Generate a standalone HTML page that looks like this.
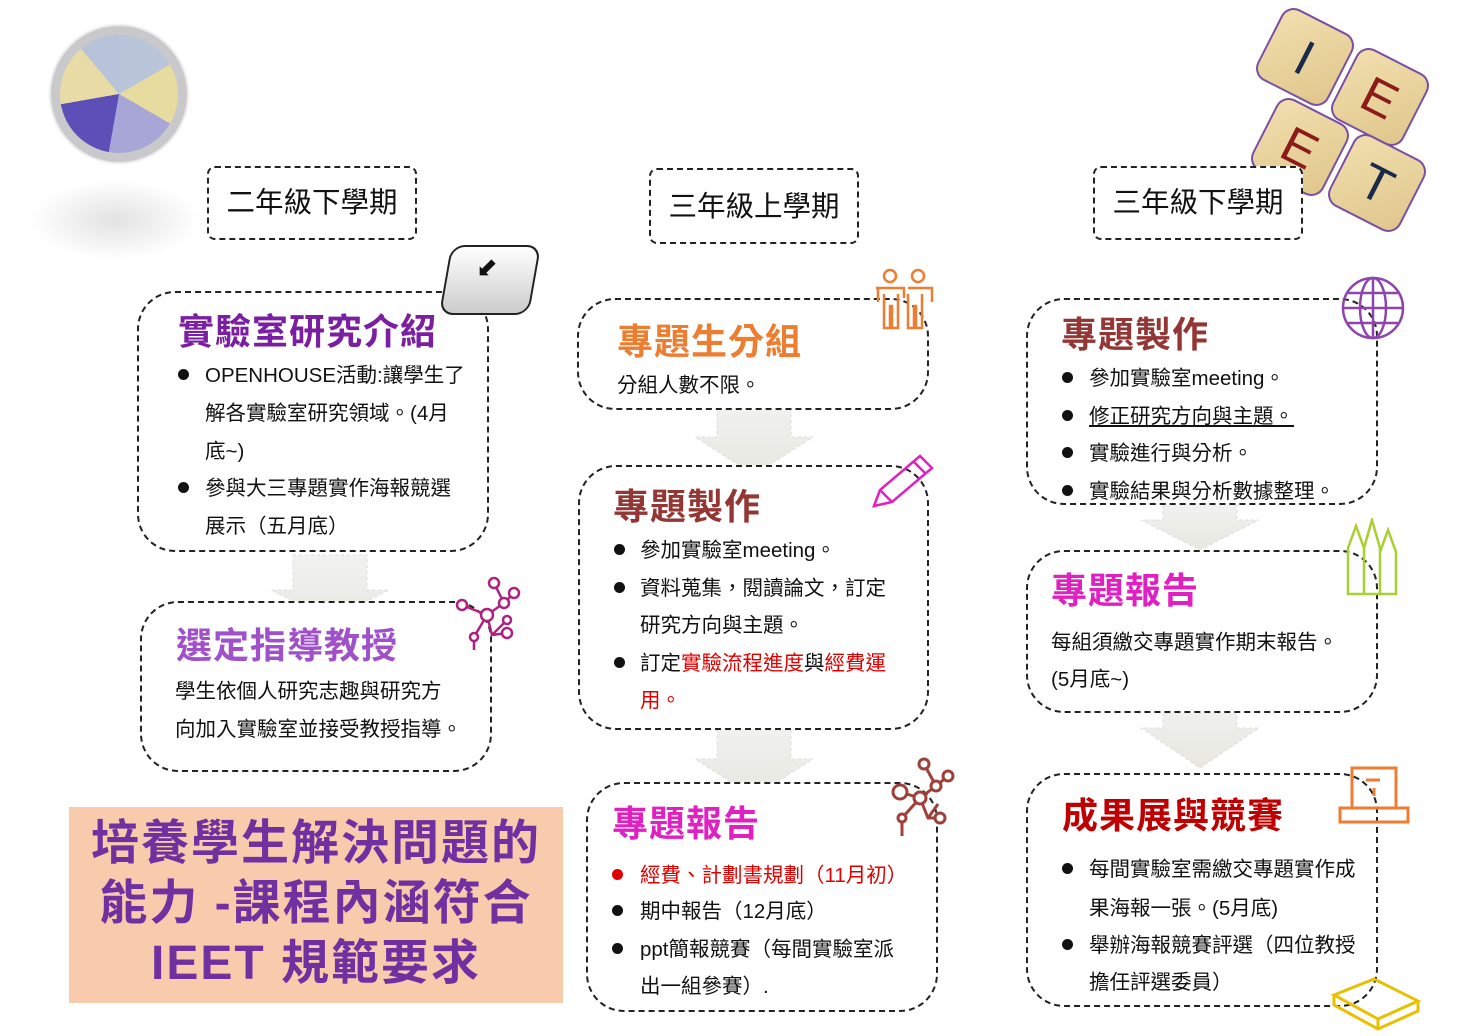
<!DOCTYPE html>
<html><head><meta charset="utf-8">
<style>
*{margin:0;padding:0;box-sizing:border-box}
body{width:1472px;height:1036px;background:#fff;position:relative;overflow:hidden;font-family:"Liberation Sans","Noto Sans CJK TC",sans-serif;color:#111}
.b{position:absolute;border:2px dashed #222;border-radius:38px;background:#fff}
.h{position:absolute;border:2px dashed #222;border-radius:8px;background:#fff;font-size:28.5px;text-align:center}
.t{position:absolute;font-size:36px;font-weight:bold;white-space:nowrap;letter-spacing:1px;margin-top:-4px}
.l{position:absolute;font-size:20.5px;white-space:nowrap;margin-top:-3px}
.d{position:absolute;width:11px;height:11px;border-radius:50%;background:#111}
.tile{position:absolute;width:80px;height:80px;border-radius:14px;border:2px solid #7a4fa0;background:linear-gradient(135deg,#f1dfae,#e0c68c);transform:rotate(27deg);font-family:"Liberation Sans",sans-serif;font-size:50px;text-align:center;line-height:78px}
</style></head><body>

<div style="position:absolute;left:52px;top:27px;width:134px;height:134px;border-radius:50%;background:#c9c9cc;box-shadow:0 0 4px #888"></div>
<div style="position:absolute;left:60px;top:35px;width:118px;height:118px;border-radius:50%;background:conic-gradient(#b9c6da 0 60deg,#e6dca0 60deg 120deg,#a7a6d6 120deg 190deg,#5d4fb8 190deg 260deg,#e8dba5 260deg 320deg,#b7c3d8 320deg 360deg)"></div>
<div style="position:absolute;left:30px;top:180px;width:170px;height:80px;border-radius:50%;background:radial-gradient(#e2e2e2,#fff 70%)"></div>

<div class="tile" style="left:1265px;top:17px;color:#1a2a4a">I</div>
<div class="tile" style="left:1340px;top:57px;color:#8b1a1a">E</div>
<div class="tile" style="left:1260px;top:107px;color:#8b1a1a">E</div>
<div class="tile" style="left:1337px;top:143px;color:#1a2a4a">T</div>

<div class="h" style="left:207px;top:166px;width:210px;height:74px;line-height:70px">二年級下學期</div>
<div class="h" style="left:649px;top:168px;width:210px;height:76px;line-height:74px">三年級上學期</div>
<div class="h" style="left:1093px;top:166px;width:210px;height:74px;line-height:70px">三年級下學期</div>

<svg style="position:absolute;left:0;top:0" width="1472" height="1036">
<defs><linearGradient id="g" x1="0" y1="0" x2="0" y2="1"><stop offset="0" stop-color="#f2f2f2"/><stop offset="1" stop-color="#e8e8e0"/></linearGradient></defs>
<g fill="url(#g)" stroke="#ddd" stroke-dasharray="3 3">
<path d="M293 555h74v35h22l-59 30-59-30h22z"/>
<path d="M717 392h74v45h22l-59 38-59-38h22z"/>
<path d="M717 714h74v45h22l-59 38-59-38h22z"/>
<path d="M1163 500h74v20h22l-59 30-59-30h22z"/>
<path d="M1163 688h74v40h22l-59 40-59-40h22z"/>
</g>
</svg>

<div class="b" style="left:137px;top:291px;width:352px;height:261px"></div>
<div class="t" style="left:178px;top:307px;color:#7b1fa2">實驗室研究介紹</div>
<div class="d" style="left:178px;top:369px"></div>
<div class="l" style="left:205px;top:361px">OPENHOUSE活動:讓學生了</div>
<div class="l" style="left:205px;top:399px">解各實驗室研究領域。(4月</div>
<div class="l" style="left:205px;top:437px">底~)</div>
<div class="d" style="left:178px;top:482px"></div>
<div class="l" style="left:205px;top:474px">參與大三專題實作海報競選</div>
<div class="l" style="left:205px;top:512px">展示（五月底）</div>

<div style="position:absolute;left:445px;top:245px;width:90px;height:70px;border-radius:14px;background:linear-gradient(#fff,#ccc);border:2px solid #222;transform:skewX(-10deg)"></div>
<div style="position:absolute;left:476px;top:252px;font-size:26px;color:#111">⬋</div>

<div class="b" style="left:140px;top:601px;width:352px;height:171px"></div>
<div class="t" style="left:176px;top:621px;color:#a050c8">選定指導教授</div>
<div class="l" style="left:175px;top:677px">學生依個人研究志趣與研究方</div>
<div class="l" style="left:175px;top:715px">向加入實驗室並接受教授指導。</div>
<svg style="position:absolute;left:452px;top:575px" width="75" height="80" fill="none" stroke="#b02080" stroke-width="2.5">
<path d="M10 30L35 40L52 28L62 18M35 40L40 60L55 58M35 40L22 62L22 75M40 60L55 45M52 28L42 8"/>
<g fill="#fff"><circle cx="10" cy="30" r="5"/><circle cx="35" cy="40" r="6"/><circle cx="52" cy="28" r="5"/><circle cx="62" cy="18" r="5"/><circle cx="55" cy="58" r="5"/><circle cx="22" cy="62" r="4"/><circle cx="42" cy="8" r="5"/><circle cx="55" cy="45" r="4"/></g>
</svg>

<div style="position:absolute;left:69px;top:807px;width:494px;height:196px;background:#f8cbad"></div>
<div style="position:absolute;left:69px;top:814px;width:494px;text-align:center;font-size:48px;font-weight:bold;color:#7030a0;line-height:60px;letter-spacing:2px">培養學生解決問題的<br>能力 -課程內涵符合<br>IEET 規範要求</div>

<div class="b" style="left:577px;top:298px;width:352px;height:112px"></div>
<div class="t" style="left:617px;top:317px;color:#ed7d31">專題生分組</div>
<div class="l" style="left:617px;top:371px">分組人數不限。</div>
<svg style="position:absolute;left:872px;top:266px" width="66" height="66" fill="none" stroke="#ed7d31" stroke-width="2.5">
<circle cx="18" cy="10" r="6"/><circle cx="46" cy="10" r="6"/>
<path d="M4 22h28v10M6 22v14M12 28v34h6V40h2v22h6V28M36 28v34h6V40h2v22h6V28M36 22h24v14M60 22v14"/>
</svg>

<div class="b" style="left:578px;top:465px;width:351px;height:265px"></div>
<div class="t" style="left:613px;top:482px;color:#943634">專題製作</div>
<div class="d" style="left:614px;top:544px"></div>
<div class="l" style="left:640px;top:536px">參加實驗室meeting。</div>
<div class="d" style="left:614px;top:582px"></div>
<div class="l" style="left:640px;top:574px">資料蒐集，閱讀論文，訂定</div>
<div class="l" style="left:640px;top:611px">研究方向與主題。</div>
<div class="d" style="left:614px;top:657px"></div>
<div class="l" style="left:640px;top:649px">訂定<span style="color:#e00000">實驗流程進度</span>與<span style="color:#e00000">經費運</span></div>
<div class="l" style="left:640px;top:686px;color:#e00000">用。</div>
<svg style="position:absolute;left:868px;top:450px" width="70" height="62" fill="none" stroke="#e020c0" stroke-width="2.5">
<path d="M6 56L12 40L52 6L64 18L24 52Z M12 40L24 52 M46 12L58 24"/>
</svg>

<div class="b" style="left:586px;top:782px;width:352px;height:230px"></div>
<div class="t" style="left:612px;top:799px;color:#e020c0">專題報告</div>
<div class="d" style="left:612px;top:869px;background:#e00000"></div>
<div class="l" style="left:640px;top:861px;color:#e00000">經費、計劃書規劃（11月初）</div>
<div class="d" style="left:612px;top:905px"></div>
<div class="l" style="left:640px;top:897px">期中報告（12月底）</div>
<div class="d" style="left:612px;top:943px"></div>
<div class="l" style="left:640px;top:935px">ppt簡報競賽（每間實驗室派</div>
<div class="l" style="left:640px;top:972px">出一組參賽）.</div>
<svg style="position:absolute;left:878px;top:756px" width="78" height="84" fill="none" stroke="#a0403a" stroke-width="3">
<path d="M22 36L42 42L58 30L70 20M42 42L50 62L62 62M42 42L24 62L24 80M58 30L46 8M50 62L60 48"/>
<g fill="#fff"><circle cx="22" cy="36" r="7"/><circle cx="42" cy="42" r="6"/><circle cx="58" cy="30" r="5"/><circle cx="70" cy="20" r="5"/><circle cx="62" cy="62" r="5"/><circle cx="24" cy="62" r="4"/><circle cx="46" cy="8" r="5"/></g>
</svg>

<div class="b" style="left:1026px;top:298px;width:352px;height:207px"></div>
<div class="t" style="left:1061px;top:310px;color:#943634">專題製作</div>
<div class="d" style="left:1062px;top:372px"></div>
<div class="l" style="left:1089px;top:364px">參加實驗室meeting。</div>
<div class="d" style="left:1062px;top:410px"></div>
<div class="l" style="left:1089px;top:402px;text-decoration:underline">修正研究方向與主題。</div>
<div class="d" style="left:1062px;top:447px"></div>
<div class="l" style="left:1089px;top:439px">實驗進行與分析。</div>
<div class="d" style="left:1062px;top:485px"></div>
<div class="l" style="left:1089px;top:477px">實驗結果與分析數據整理。</div>
<svg style="position:absolute;left:1340px;top:275px" width="66" height="66" fill="none" stroke="#8e44ad" stroke-width="2.5">
<circle cx="33" cy="33" r="30"/><ellipse cx="33" cy="33" rx="13" ry="30"/><path d="M3 33h60M8 18h50M8 48h50M33 3v60"/>
</svg>

<div class="b" style="left:1026px;top:550px;width:352px;height:163px"></div>
<div class="t" style="left:1051px;top:566px;color:#e020c0">專題報告</div>
<div class="l" style="left:1051px;top:628px">每組須繳交專題實作期末報告。</div>
<div class="l" style="left:1051px;top:665px">(5月底~)</div>
<svg style="position:absolute;left:1344px;top:518px" width="56" height="80" fill="none" stroke="#a8d030" stroke-width="2.5">
<path d="M4 30l8-22 8 22v46H4zM20 30l8-28 8 28v46H20zM36 34l8-22 8 22v42H36z"/>
</svg>

<div class="b" style="left:1026px;top:773px;width:352px;height:234px"></div>
<div class="t" style="left:1062px;top:791px;color:#c00000">成果展與競賽</div>
<div class="d" style="left:1062px;top:863px"></div>
<div class="l" style="left:1089px;top:855px">每間實驗室需繳交專題實作成</div>
<div class="l" style="left:1089px;top:894px">果海報一張。(5月底)</div>
<div class="d" style="left:1062px;top:939px"></div>
<div class="l" style="left:1089px;top:931px">舉辦海報競賽評選（四位教授</div>
<div class="l" style="left:1089px;top:968px">擔任評選委員）</div>
<svg style="position:absolute;left:1336px;top:764px" width="76" height="64" fill="none" stroke="#ed7d31" stroke-width="3">
<rect x="16" y="4" width="44" height="40"/><rect x="4" y="44" width="68" height="14"/><path d="M30 16h14M38 24v8"/>
</svg>
<svg style="position:absolute;left:1330px;top:975px" width="92" height="61" fill="none" stroke="#e8c000" stroke-width="3">
<path d="M4 20L44 4L88 26L48 44Z M4 20v10L48 54L88 36V26M48 44v10"/>
</svg>

</body></html>
